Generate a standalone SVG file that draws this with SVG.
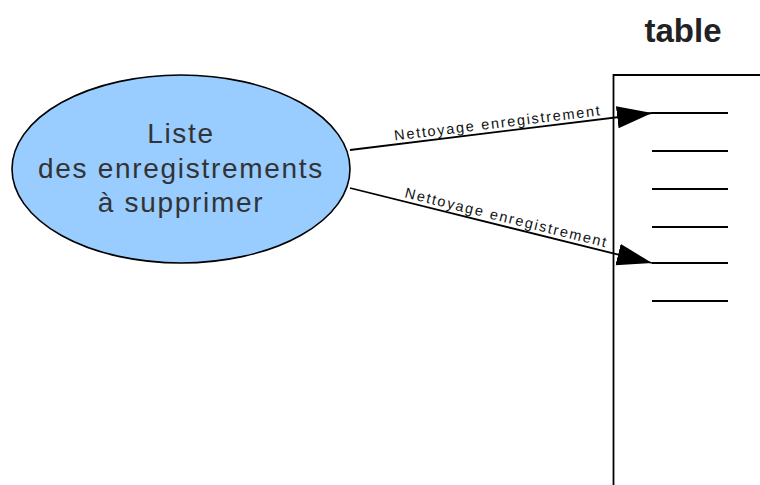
<svg xmlns="http://www.w3.org/2000/svg" width="760" height="485" viewBox="0 0 760 485">
<style>
.ln{stroke:#000;stroke-width:1.8;fill:none}
.main{font-family:"Liberation Sans",Arial,sans-serif;font-size:28px;fill:#333;text-anchor:middle;letter-spacing:1.7px}
.lbl{font-family:"Liberation Sans",Arial,sans-serif;font-size:14.5px;fill:#111;text-anchor:middle}
.title{font-family:"Liberation Sans",Arial,sans-serif;font-size:33px;font-weight:bold;fill:#222;text-anchor:middle}
</style>
<defs>
<marker id="arr" markerUnits="userSpaceOnUse" markerWidth="36" markerHeight="24" refX="35" refY="11" orient="auto">
<path d="M0,0 L35,11 L0,22 z" fill="#000"/>
</marker>
</defs>
<rect width="760" height="485" fill="#fff"/>
<g id="liste">
<ellipse cx="181" cy="169" rx="169" ry="94" fill="#99ccff" stroke="#000" stroke-width="1.6"/>
<text class="main" x="181" y="143">Liste</text>
<text class="main" x="181" y="178">des enregistrements</text>
<text class="main" x="181" y="212">à supprimer</text>
</g>
<g id="table">
<text class="title" x="683" y="42">table</text>
<path class="ln" d="M613.5,485 V75 H760"/>
<path class="ln" d="M652,113 H728 M652,151 H728 M652,189 H728 M652,227 H728 M652,263 H728 M652,301 H728"/>
</g>
<g id="connectors">
<line class="ln" x1="350" y1="150" x2="652" y2="113" marker-end="url(#arr)"/>
<line class="ln" x1="350" y1="188" x2="652" y2="263" marker-end="url(#arr)"/>
<text class="lbl" transform="translate(498,131.9) rotate(-7)" y="-4" textLength="207" lengthAdjust="spacing">Nettoyage enregistrement</text>
<text class="lbl" transform="translate(503.5,226.1) rotate(13.95)" y="-4" textLength="207" lengthAdjust="spacing">Nettoyage enregistrement</text>
</g>
</svg>
